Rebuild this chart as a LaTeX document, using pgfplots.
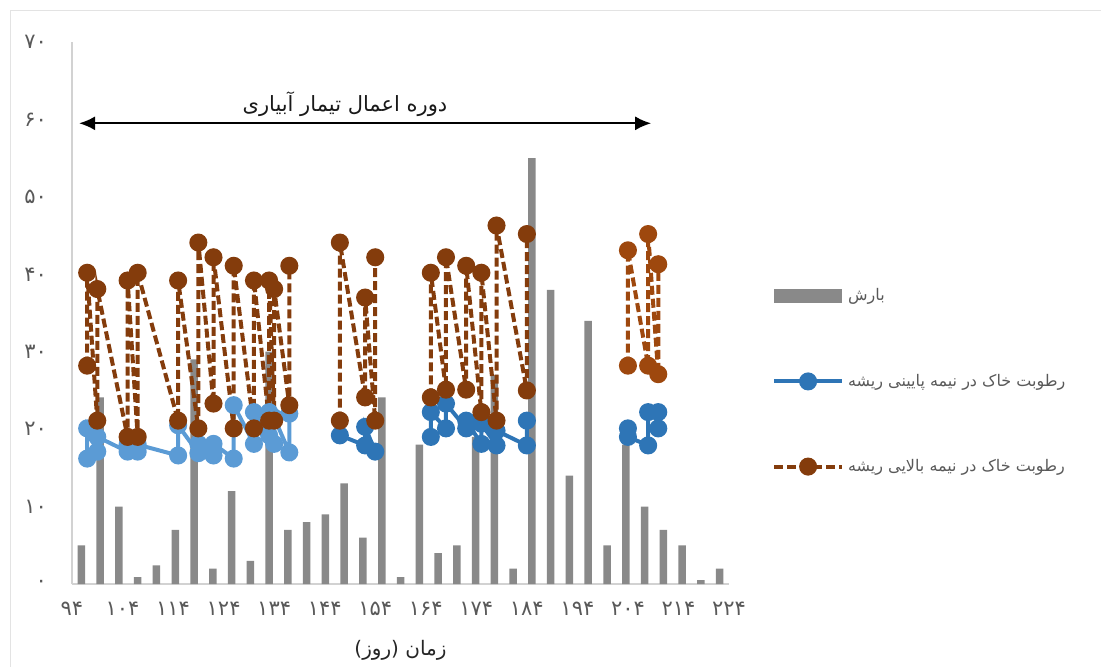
\documentclass[border=0pt]{standalone}
\usepackage{pgfplots}
\pgfplotsset{compat=1.18}
\usepackage{fontspec}
\usetikzlibrary{arrows.meta}
\TeXXeTstate=1
\newfontfamily\arabicfont[Script=Arabic]{DejaVu Sans}
\definecolor{barGray}{HTML}{898989}
\definecolor{blueA}{HTML}{5B9BD5}
\definecolor{blueB}{HTML}{2E75B6}
\definecolor{brownA}{HTML}{843C0C}
\definecolor{brownB}{HTML}{9E480E}
\definecolor{txtGray}{HTML}{595959}

\pgfplotsset{
  lowline/.style={line width=2pt, mark=*, mark size=3.5pt},
  highline/.style={line width=2pt, dash pattern=on 4.5pt off 2pt, mark=*, mark size=3.5pt, mark options={solid}},
  lineleg/.style={legend image code/.code={\draw[##1, mark repeat=2, mark phase=2] plot coordinates {(0pt,0pt) (17pt,0pt) (34pt,0pt)};}},
  barleg/.style={legend image code/.code={\fill[barGray] (0pt,-3.5pt) rectangle (34pt,3.5pt);}},
}

\begin{document}
\begin{tikzpicture}
\useasboundingbox (-36pt,-41pt) rectangle (514.5pt,292pt);
\draw[gray!22] (-31pt,-60pt) rectangle (540pt,287pt);
\begin{axis}[
  width=328.5pt, height=271pt, scale only axis,
  xmin=94, xmax=224, ymin=0, ymax=70,
  axis lines*=left,
  axis line style={gray!35, line width=0.8pt},
  clip=false,
  xtick={94,104,...,224},
  xticklabels={۹۴,۱۰۴,۱۱۴,۱۲۴,۱۳۴,۱۴۴,۱۵۴,۱۶۴,۱۷۴,۱۸۴,۱۹۴,۲۰۴,۲۱۴,۲۲۴},
  ytick={0,10,...,70},
  yticklabels={۰,۱۰,۲۰,۳۰,۴۰,۵۰,۶۰,۷۰},
  major tick length=0pt,
  tick label style={font=\arabicfont\fontsize{10.5}{12}\selectfont, text=txtGray},
  xticklabel style={anchor=center, yshift=-12.5pt},
  yticklabel style={anchor=east, xshift=-9pt},
  xlabel={\beginR زمان (روز)\endR},
  xlabel style={at={(axis description cs:0.5,0)}, anchor=center, yshift=-33pt, font=\arabicfont\fontsize{10}{12}\selectfont, text=black!85},
  legend style={at={(1.065,0.553)}, anchor=north west, draw=none, fill=none,
    font=\arabicfont\fontsize{8}{10}\selectfont, text=txtGray, row sep=31pt, inner sep=0pt},
  legend cell align=left,
]
% precipitation bars
\addplot[ybar, bar width=3.75pt, fill=barGray, draw=none, barleg]
  coordinates {(95.86,5.0)(99.57,24.1)(103.29,10.0)(107.00,0.9)(110.71,2.4)(114.43,7.0)(118.14,29.0)(121.86,2.0)(125.57,12.0)(129.29,3.0)(133.00,30.0)(136.71,7.0)(140.43,8.0)(144.14,9.0)(147.86,13.0)(151.57,6.0)(155.29,24.1)(159.00,0.9)(162.71,18.0)(166.43,4.0)(170.14,5.0)(173.86,19.0)(177.57,27.0)(181.29,2.0)(185.00,55.0)(188.71,38.0)(192.43,14.0)(196.14,34.0)(199.86,5.0)(203.57,18.0)(207.29,10.0)(211.00,7.0)(214.71,5.0)(218.43,0.5)(222.14,2.0)};
\addlegendentry{\beginR بارش\endR}

% lower half of root zone
\addplot[lowline, blueA, forget plot] coordinates {(97,16.2)(97,20.1)(99,17.1)(99,19.0)(105,17.1)(105,18.0)(107,17.1)(107,18.0)(115,16.6)(115,20.5)(119,16.9)(119,18.1)(122,16.6)(122,18.1)(126,16.2)(126,23.1)(130,18.1)(130,22.2)(133,19.2)(133,22.2)(134,18.1)(134,21.5)(137,17.0)(137,22.0)};
\addplot[lowline, blueB, forget plot] coordinates {(147,19.2)(152,17.9)(152,20.3)(154,17.1)};
\addplot[lowline, blueB, forget plot] coordinates {(204,20.1)(204,19.0)(208,17.9)(208,22.2)(210,22.2)(210,20.1)};
\addplot[lowline, blueB, lineleg]
  coordinates {(165,19.0)(165,22.2)(168,20.1)(168,23.3)(172,20.1)(172,21.1)(175,18.1)(175,20.7)(178,17.9)(178,19.8)(184,17.9)(184,21.1)};
\addlegendentry{\beginR رطوبت خاک در نیمه پایینی ریشه\endR}

% upper half of root zone
\addplot[highline, brownA, lineleg]
  coordinates {(97,28.2)(97,40.2)(99,21.1)(99,38.1)(105,19.0)(105,39.2)(107,19.0)(107,40.2)(115,21.1)(115,39.2)(119,20.1)(119,44.1)(122,23.3)(122,42.2)(126,20.1)(126,41.1)(130,20.1)(130,39.2)(133,21.1)(133,39.2)(134,21.1)(134,38.1)(137,23.1)(137,41.1)};
\addlegendentry{\beginR رطوبت خاک در نیمه بالایی ریشه\endR}
\addplot[highline, brownA, forget plot] coordinates {(147,21.1)(147,44.1)(152,24.1)(152,37.0)(154,21.1)(154,42.2)};
\addplot[highline, brownA, forget plot] coordinates {(165,24.1)(165,40.2)(168,25.1)(168,42.2)(172,25.1)(172,41.1)(175,22.2)(175,40.2)(178,21.1)(178,46.3)(184,25.0)(184,45.2)};
\addplot[highline, brownB, forget plot] coordinates {(204,28.2)(204,43.1)(208,28.2)(208,45.2)(210,27.1)(210,41.3)};

% irrigation period
\draw[black, line width=1pt, {Latex[length=8pt,width=7pt]}-{Latex[length=8pt,width=7pt]}]
  (axis cs:95.4,59.5) -- (axis cs:208.6,59.5);
\node[font=\arabicfont\fontsize{10.5}{12}\selectfont, text=black!90] at (axis cs:148,62.0)
  {\beginR دوره اعمال تیمار آبیاری\endR};
\end{axis}
\end{tikzpicture}
\end{document}
